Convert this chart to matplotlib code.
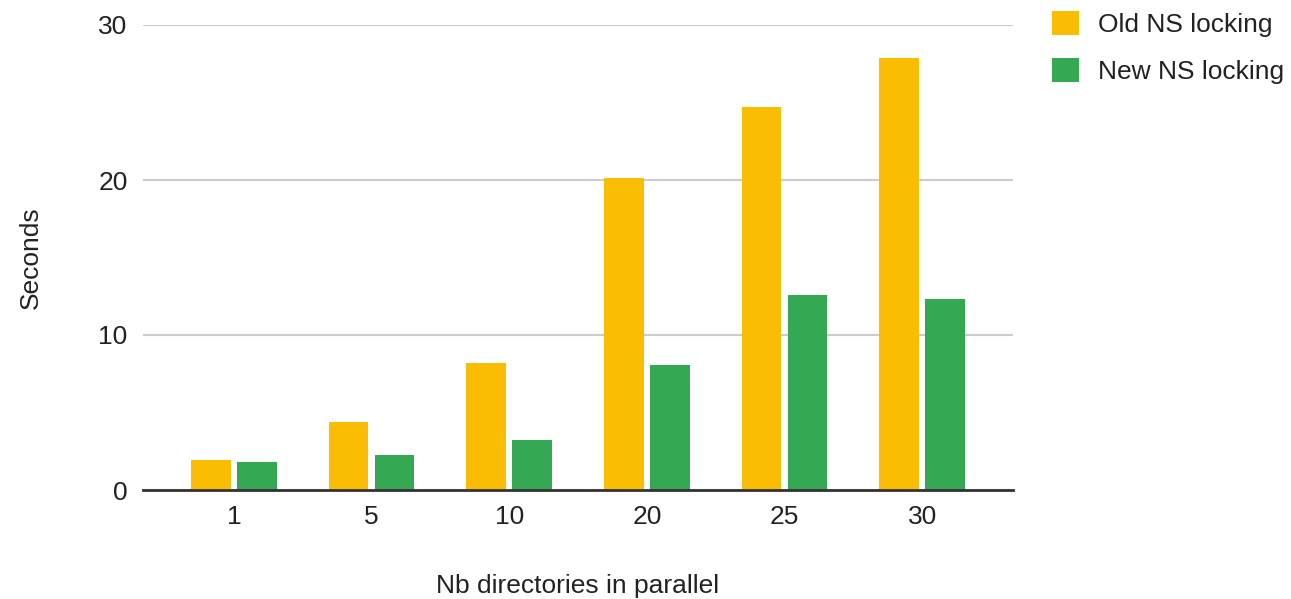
import matplotlib.pyplot as plt
import numpy as np

plt.rcParams['font.family'] = ['Liberation Sans', 'DejaVu Sans']

# data
categories = ['1', '5', '10', '20', '25', '30']
old_ns = [1.94, 4.4, 8.2, 20.15, 24.7, 27.9]
new_ns = [1.8, 2.24, 3.2, 8.06, 12.58, 12.3]

yellow = '#FBBC04'
green = '#34A853'

fig = plt.figure(figsize=(12.91, 5.99), dpi=100)
ax = fig.add_axes([143 / 1291, 109 / 599, 870 / 1291, 465 / 599])

x = np.arange(len(categories))
w = 0.29
off = 0.167
ax.bar(x - off, old_ns, width=w, color=yellow, label='Old NS locking', zorder=3)
ax.bar(x + off, new_ns, width=w, color=green, label='New NS locking', zorder=3)

ax.set_xlim(-0.66, len(categories) - 1 + 0.66)
ax.set_ylim(0, 30)
ax.set_yticks([0, 10, 20, 30])
ax.set_xticks(x)
ax.set_xticklabels(categories)
ax.tick_params(length=0, labelsize=19, colors='#222222', pad=11)
ax.tick_params(axis='y', pad=11)
ax.grid(axis='y', color='#cccccc', linewidth=1.5, zorder=0)
for s in ['top', 'right', 'left']:
    ax.spines[s].set_visible(False)
ax.spines['bottom'].set_color('#333333')
ax.spines['bottom'].set_linewidth(2)
ax.spines['bottom'].set_zorder(4)

ax.set_ylabel('Seconds', fontsize=19, color='#222222', labelpad=40)
ax.set_xlabel('Nb directories in parallel', fontsize=19, color='#222222', labelpad=32)

fig.legend(loc='upper left', bbox_to_anchor=(1028 / 1291, 1.022), frameon=False,
           fontsize=19, handlelength=1.05, handleheight=1.05, handletextpad=0.7,
           labelspacing=0.8, labelcolor='#222222')

fig.savefig('out.png', dpi=100)
